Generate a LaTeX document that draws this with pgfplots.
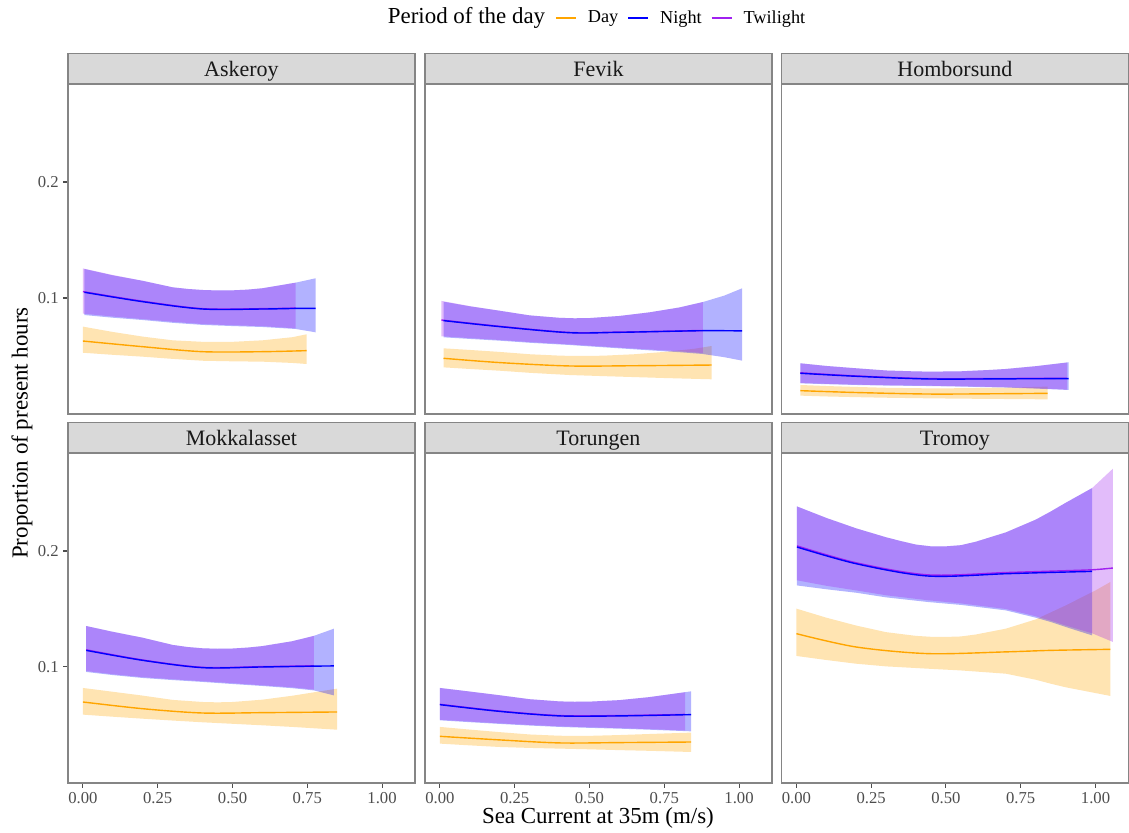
\documentclass[border=0pt]{standalone}
\usepackage{fontspec}
\setmainfont{Liberation Serif}
\usepackage{pgfplots}
\pgfplotsset{compat=1.18}
\usepackage{pgfplotstable}
\definecolor{dayc}{HTML}{FFA500}
\definecolor{nightc}{HTML}{0000FF}
\definecolor{twic}{HTML}{A020F0}
\definecolor{stripc}{HTML}{D9D9D9}
\definecolor{borderc}{HTML}{858585}
\definecolor{tickc}{HTML}{4D4D4D}

% ================= Askeroy
\pgfplotstableread{
x y
0.000 0.0629
0.200 0.0580
0.400 0.0537
0.600 0.0537
0.748 0.0546
}\AskDl
\pgfplotstableread{
x y
0.000 0.0753
0.100 0.0707
0.200 0.0667
0.300 0.0635
0.400 0.0622
0.500 0.0622
0.600 0.0635
0.700 0.0662
0.748 0.0687
0.748 0.0431
0.700 0.0440
0.600 0.0451
0.500 0.0454
0.400 0.0459
0.300 0.0475
0.200 0.0494
0.100 0.0510
0.000 0.0528
}\AskDp
\pgfplotstableread{
x y
0.005 0.1049
0.200 0.0968
0.400 0.0905
0.600 0.0905
0.711 0.0910
0.778 0.0911
}\AskNl
\pgfplotstableread{
x y
0.005 0.1250
0.100 0.1195
0.200 0.1148
0.300 0.1092
0.350 0.1078
0.400 0.1069
0.450 0.1065
0.500 0.1066
0.550 0.1072
0.600 0.1084
0.711 0.1132
0.778 0.1170
0.778 0.0704
0.711 0.0733
0.600 0.0750
0.500 0.0758
0.400 0.0768
0.300 0.0786
0.200 0.0810
0.100 0.0830
0.005 0.0853
}\AskNp
\pgfplotstableread{
x y
0.000 0.1055
0.200 0.0972
0.400 0.0908
0.600 0.0908
0.711 0.0913
}\AskTl
\pgfplotstableread{
x y
0.000 0.1255
0.100 0.1198
0.200 0.1148
0.300 0.1092
0.350 0.1078
0.400 0.1069
0.450 0.1065
0.500 0.1066
0.550 0.1072
0.600 0.1084
0.711 0.1132
0.711 0.0738
0.600 0.0757
0.500 0.0765
0.400 0.0775
0.300 0.0795
0.200 0.0818
0.100 0.0840
0.000 0.0865
}\AskTp
% ================= Fevik
\pgfplotstableread{
x y
0.012 0.0480
0.200 0.0443
0.432 0.0414
0.650 0.0416
0.908 0.0422
}\FevDl
\pgfplotstableread{
x y
0.012 0.0566
0.100 0.0552
0.200 0.0535
0.300 0.0515
0.400 0.0503
0.450 0.0500
0.500 0.0500
0.550 0.0503
0.650 0.0515
0.750 0.0535
0.850 0.0562
0.908 0.0586
0.908 0.0299
0.850 0.0303
0.750 0.0310
0.650 0.0318
0.550 0.0326
0.432 0.0336
0.300 0.0355
0.200 0.0373
0.100 0.0388
0.012 0.0402
}\FevDp
\pgfplotstableread{
x y
0.012 0.0805
0.200 0.0753
0.432 0.0701
0.600 0.0704
0.879 0.0718
1.010 0.0716
}\FevNl
\pgfplotstableread{
x y
0.012 0.0968
0.100 0.0928
0.200 0.0890
0.300 0.0850
0.400 0.0829
0.450 0.0825
0.500 0.0827
0.600 0.0845
0.700 0.0876
0.800 0.0918
0.879 0.0965
0.950 0.1020
1.010 0.1083
1.010 0.0460
0.950 0.0490
0.879 0.0517
0.800 0.0533
0.700 0.0549
0.600 0.0566
0.500 0.0583
0.432 0.0595
0.300 0.0614
0.200 0.0632
0.100 0.0647
0.012 0.0661
}\FevNp
\pgfplotstableread{
x y
0.005 0.0810
0.200 0.0756
0.432 0.0703
0.600 0.0706
0.879 0.0720
}\FevTl
\pgfplotstableread{
x y
0.005 0.0975
0.100 0.0930
0.200 0.0890
0.300 0.0850
0.400 0.0829
0.450 0.0825
0.500 0.0827
0.600 0.0845
0.700 0.0876
0.800 0.0918
0.879 0.0965
0.879 0.0525
0.800 0.0541
0.700 0.0556
0.600 0.0572
0.500 0.0589
0.432 0.0600
0.300 0.0620
0.200 0.0638
0.100 0.0654
0.005 0.0670
}\FevTp
% ================= Homborsund
\pgfplotstableread{
x y
0.013 0.0201
0.200 0.0185
0.440 0.0172
0.650 0.0174
0.840 0.0178
}\HomDl
\pgfplotstableread{
x y
0.013 0.0250
0.100 0.0241
0.200 0.0233
0.300 0.0226
0.440 0.0221
0.550 0.0222
0.650 0.0226
0.750 0.0230
0.840 0.0236
0.840 0.0126
0.750 0.0128
0.650 0.0130
0.550 0.0132
0.440 0.0135
0.300 0.0140
0.200 0.0145
0.100 0.0151
0.013 0.0158
}\HomDp
\pgfplotstableread{
x y
0.013 0.0351
0.200 0.0325
0.440 0.0302
0.700 0.0303
0.910 0.0305
}\HomNl
\pgfplotstableread{
x y
0.013 0.0437
0.100 0.0414
0.200 0.0394
0.300 0.0375
0.400 0.0367
0.450 0.0365
0.550 0.0368
0.650 0.0380
0.700 0.0388
0.800 0.0412
0.910 0.0446
0.910 0.0207
0.800 0.0219
0.700 0.0228
0.550 0.0236
0.440 0.0241
0.300 0.0245
0.200 0.0250
0.100 0.0257
0.013 0.0264
}\HomNp
\pgfplotstableread{
x y
0.013 0.0355
0.200 0.0328
0.440 0.0305
0.700 0.0306
0.905 0.0308
}\HomTl
\pgfplotstableread{
x y
0.013 0.0437
0.100 0.0414
0.200 0.0394
0.300 0.0375
0.400 0.0367
0.450 0.0365
0.550 0.0368
0.650 0.0380
0.700 0.0388
0.800 0.0412
0.905 0.0443
0.905 0.0210
0.800 0.0222
0.700 0.0231
0.550 0.0239
0.440 0.0244
0.300 0.0248
0.200 0.0253
0.100 0.0260
0.013 0.0268
}\HomTp
% ================= Mokkalasset
\pgfplotstableread{
x y
0.000 0.0698
0.200 0.0640
0.400 0.0603
0.600 0.0606
0.850 0.0612
}\MokDl
\pgfplotstableread{
x y
0.000 0.0819
0.100 0.0786
0.200 0.0753
0.300 0.0716
0.400 0.0698
0.450 0.0695
0.500 0.0698
0.600 0.0718
0.700 0.0752
0.850 0.0813
0.850 0.0459
0.700 0.0483
0.600 0.0497
0.500 0.0510
0.400 0.0523
0.300 0.0538
0.200 0.0554
0.100 0.0571
0.000 0.0589
}\MokDp
\pgfplotstableread{
x y
0.011 0.1143
0.200 0.1057
0.400 0.0994
0.600 0.1000
0.772 0.1007
0.839 0.1009
}\MokNl
\pgfplotstableread{
x y
0.011 0.1353
0.100 0.1303
0.200 0.1252
0.300 0.1190
0.350 0.1172
0.400 0.1161
0.450 0.1157
0.500 0.1159
0.550 0.1167
0.600 0.1180
0.700 0.1222
0.772 0.1268
0.839 0.1330
0.839 0.0755
0.772 0.0798
0.700 0.0817
0.600 0.0836
0.500 0.0853
0.400 0.0871
0.300 0.0887
0.200 0.0905
0.100 0.0930
0.011 0.0957
}\MokNp
\pgfplotstableread{
x y
0.011 0.1148
0.200 0.1060
0.400 0.0997
0.600 0.1003
0.772 0.1010
}\MokTl
\pgfplotstableread{
x y
0.011 0.1353
0.100 0.1303
0.200 0.1252
0.300 0.1190
0.350 0.1172
0.400 0.1161
0.450 0.1157
0.500 0.1159
0.550 0.1167
0.600 0.1180
0.700 0.1222
0.772 0.1268
0.772 0.0805
0.700 0.0824
0.600 0.0842
0.500 0.0860
0.400 0.0877
0.300 0.0894
0.200 0.0912
0.100 0.0937
0.011 0.0965
}\MokTp
% ================= Torungen
\pgfplotstableread{
x y
0.000 0.0402
0.200 0.0371
0.400 0.0345
0.600 0.0348
0.840 0.0353
}\TorDl
\pgfplotstableread{
x y
0.000 0.0483
0.100 0.0460
0.200 0.0438
0.300 0.0418
0.400 0.0407
0.500 0.0406
0.600 0.0413
0.700 0.0422
0.840 0.0434
0.840 0.0267
0.700 0.0277
0.600 0.0283
0.500 0.0290
0.400 0.0296
0.300 0.0302
0.200 0.0310
0.100 0.0324
0.000 0.0339
}\TorDp
\pgfplotstableread{
x y
0.000 0.0675
0.200 0.0617
0.400 0.0578
0.600 0.0578
0.840 0.0589
}\TorNl
\pgfplotstableread{
x y
0.000 0.0819
0.100 0.0788
0.200 0.0756
0.300 0.0722
0.400 0.0703
0.450 0.0700
0.500 0.0701
0.600 0.0714
0.700 0.0740
0.840 0.0790
0.840 0.0445
0.700 0.0459
0.600 0.0468
0.500 0.0475
0.400 0.0483
0.300 0.0495
0.200 0.0509
0.100 0.0524
0.000 0.0540
}\TorNp
\pgfplotstableread{
x y
0.000 0.0678
0.200 0.0620
0.400 0.0581
0.600 0.0581
0.820 0.0591
}\TorTl
\pgfplotstableread{
x y
0.000 0.0819
0.100 0.0788
0.200 0.0756
0.300 0.0722
0.400 0.0703
0.450 0.0700
0.500 0.0701
0.600 0.0714
0.700 0.0740
0.820 0.0782
0.820 0.0452
0.700 0.0464
0.600 0.0473
0.500 0.0480
0.400 0.0488
0.300 0.0500
0.200 0.0514
0.100 0.0529
0.000 0.0545
}\TorTp
% ================= Tromoy
\pgfplotstableread{
x y
0.000 0.1287
0.200 0.1172
0.440 0.1115
0.700 0.1130
0.850 0.1143
1.050 0.1152
}\TroDl
\pgfplotstableread{
x y
0.000 0.1503
0.100 0.1425
0.200 0.1357
0.300 0.1300
0.400 0.1268
0.450 0.1260
0.500 0.1259
0.550 0.1263
0.600 0.1280
0.700 0.1330
0.800 0.1410
0.900 0.1530
1.000 0.1660
1.050 0.1733
1.050 0.0750
1.000 0.0775
0.900 0.0825
0.850 0.0856
0.800 0.0890
0.700 0.0942
0.550 0.0970
0.440 0.0985
0.300 0.1005
0.200 0.1028
0.100 0.1060
0.000 0.1095
}\TroDp
\pgfplotstableread{
x y
0.002 0.2034
0.200 0.1890
0.440 0.1784
0.700 0.1804
0.850 0.1815
0.989 0.1824
}\TroNl
\pgfplotstableread{
x y
0.002 0.2384
0.100 0.2285
0.200 0.2195
0.300 0.2118
0.350 0.2085
0.400 0.2055
0.450 0.2040
0.500 0.2040
0.550 0.2050
0.600 0.2080
0.700 0.2160
0.800 0.2270
0.850 0.2340
0.900 0.2415
0.989 0.2543
0.989 0.1272
0.900 0.1345
0.850 0.1388
0.800 0.1425
0.700 0.1488
0.550 0.1535
0.440 0.1560
0.300 0.1600
0.200 0.1640
0.100 0.1670
0.002 0.1703
}\TroNp
\pgfplotstableread{
x y
0.002 0.2044
0.200 0.1898
0.440 0.1794
0.700 0.1814
0.850 0.1826
0.989 0.1838
1.058 0.1853
}\TroTl
\pgfplotstableread{
x y
0.002 0.2384
0.100 0.2285
0.200 0.2195
0.300 0.2118
0.350 0.2085
0.400 0.2055
0.450 0.2040
0.500 0.2040
0.550 0.2050
0.600 0.2080
0.700 0.2160
0.800 0.2270
0.850 0.2340
0.900 0.2415
0.989 0.2543
1.058 0.2709
1.058 0.1216
0.989 0.1290
0.900 0.1358
0.850 0.1400
0.800 0.1437
0.700 0.1500
0.550 0.1548
0.440 0.1575
0.300 0.1618
0.200 0.1660
0.100 0.1700
0.002 0.1747
}\TroTp

\newcommand{\band}[2]{%
  \addplot[fill=#2, fill opacity=0.3, draw=none, forget plot] table[x=x,y=y]{#1};
}
\newcommand{\curve}[2]{%
  \addplot[#2, line width=1.05pt, smooth, forget plot] table[x=x,y=y]{#1};
}

\pgfplotsset{
  every axis title/.style={at={(0.5,1)}, anchor=south, fill=stripc, draw=borderc,
    line width=0.9pt, minimum width=260.25pt, minimum height=22.5pt, inner sep=0pt,
    text=black!90, font=\fontsize{16.5}{19}\selectfont, text height=13.5pt, text depth=1.5pt},
  panel/.style={
    scale only axis, width=260.25pt, height=247.5pt,
    xmin=-0.05, xmax=1.11, ymin=0, ymax=0.2845,
    axis line style={draw=borderc, line width=0.9pt},
    xtick=\empty, ytick=\empty,
    tick align=outside, major tick length=3.5pt,
    tick style={draw=tickc, line width=0.8pt},
    tick label style={font=\fontsize{12.5}{14}\selectfont, text=tickc},
    /pgf/number format/assume math mode=true,
    anchor=north west,
  },
  yt/.style={ytick={0.1,0.2}, yticklabels={0.1,0.2}, ytick pos=left},
  xt/.style={xtick={0,0.25,0.5,0.75,1}, xticklabels={0.00,0.25,0.50,0.75,1.00}, xtick pos=bottom},
}

\begin{document}
\begin{tikzpicture}

\begin{axis}[panel, yt, at={(51pt,-63pt)}, title={Askeroy}]
\band{\AskDp}{dayc}\band{\AskNp}{nightc}\band{\AskTp}{twic}
\curve{\AskDl}{dayc}\curve{\AskTl}{twic}\curve{\AskNl}{nightc}
\end{axis}

\begin{axis}[panel, at={(318.75pt,-63pt)}, title={Fevik},
  legend style={at={(0.3746,1.200)}, anchor=west, draw=none, fill=none,
    legend columns=-1, font=\fontsize{13.7}{16}\selectfont, inner sep=0pt,
    /tikz/every odd column/.style={column sep=6.5pt},
    /tikz/every even column/.style={column sep=4.8pt}},
  legend image code/.code={\draw[#1] (0pt,0pt) -- (15pt,0pt);}]
\addlegendimage{dayc, line width=1.05pt}\addlegendentry{Day}
\addlegendimage{nightc, line width=1.05pt}\addlegendentry{Night}
\addlegendimage{twic, line width=1.05pt}\addlegendentry{Twilight}
\band{\FevDp}{dayc}\band{\FevNp}{nightc}\band{\FevTp}{twic}
\curve{\FevDl}{dayc}\curve{\FevTl}{twic}\curve{\FevNl}{nightc}
\end{axis}

\begin{axis}[panel, at={(586.125pt,-63pt)}, title={Homborsund}]
\band{\HomDp}{dayc}\band{\HomNp}{nightc}\band{\HomTp}{twic}
\curve{\HomDl}{dayc}\curve{\HomTl}{twic}\curve{\HomNl}{nightc}
\end{axis}

\begin{axis}[panel, yt, xt, at={(51pt,-339.75pt)}, title={Mokkalasset}]
\band{\MokDp}{dayc}\band{\MokNp}{nightc}\band{\MokTp}{twic}
\curve{\MokDl}{dayc}\curve{\MokTl}{twic}\curve{\MokNl}{nightc}
\end{axis}

\begin{axis}[panel, xt, at={(318.75pt,-339.75pt)}, title={Torungen}]
\band{\TorDp}{dayc}\band{\TorNp}{nightc}\band{\TorTp}{twic}
\curve{\TorDl}{dayc}\curve{\TorTl}{twic}\curve{\TorNl}{nightc}
\end{axis}

\begin{axis}[panel, xt, at={(586.125pt,-339.75pt)}, title={Tromoy}]
\band{\TroDp}{dayc}\band{\TroNp}{nightc}\band{\TroTp}{twic}
\curve{\TroDl}{dayc}\curve{\TroTl}{twic}\curve{\TroNl}{nightc}
\end{axis}

\node[font=\fontsize{17.2}{20}\selectfont] at (349.9pt,-13.5pt) {Period of the day};
\node[font=\fontsize{17.2}{20}\selectfont] at (448.5pt,-613.5pt) {Sea Current at 35m (m/s)};
\node[font=\fontsize{17.2}{20}\selectfont, rotate=90] at (16.5pt,-324.75pt) {Proportion of present hours};
\path (0,0) rectangle (846.75pt,-624pt);
\end{tikzpicture}
\end{document}
